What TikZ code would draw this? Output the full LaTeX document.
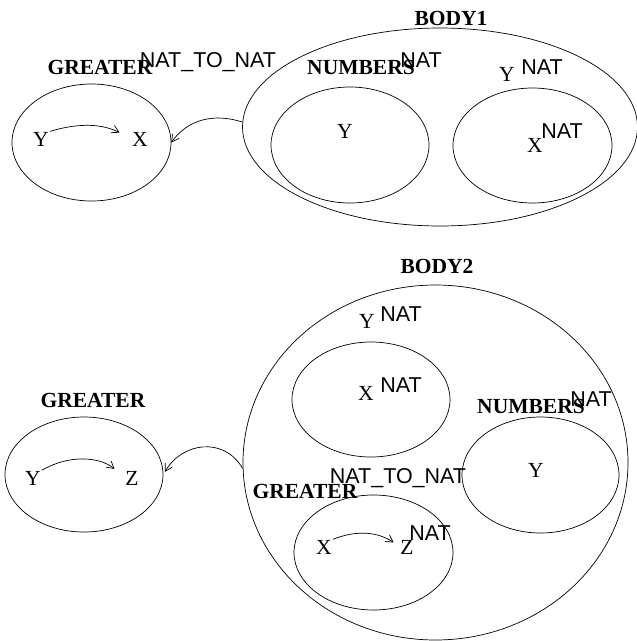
\documentclass[tikz,border=0pt]{standalone}
\usepackage{fontspec}
\setmainfont{Liberation Serif}
\newfontfamily\natfont{Liberation Sans}
\usetikzlibrary{shapes.geometric,arrows.meta}
\tikzset{
  oval/.style={draw,ellipse,inner sep=0pt,line width=0.7pt},
  lbl/.style={anchor=base,inner sep=0pt,font=\fontsize{21.5}{24}\selectfont},
  bold/.style={anchor=base,inner sep=0pt,font=\fontsize{21.5}{24}\selectfont\bfseries},
  typ/.style={anchor=base,inner sep=0pt,font=\fontsize{21.5}{24}\selectfont\natfont},
  conn/.style={line width=0.7pt,-{Straight Barb[length=7pt,width=8pt]}}
}
\begin{document}
\begin{tikzpicture}[x=1pt,y=1pt]
\useasboundingbox (0,0) rectangle (637,-641);
% ---------- top half ----------
\node[oval,minimum width=159pt,minimum height=117pt] (g1) at (91.5,-142.5) {};
\node[bold] (g1lbl) at (100,-74) {GREATER};
\node[typ] (n2n1) at (208,-67) {NAT\_TO\_NAT};
\node[lbl] (y1) at (41,-146) {Y};
\node[lbl] (x1) at (140,-146) {X};
\draw[conn,shorten >=14pt,shorten <=1pt] (y1.north east) to[bend left=22] (x1.west);

\node[oval,minimum width=395pt,minimum height=198pt] (b1) at (440,-127) {};
\node[bold] (b1lbl) at (451,-25) {BODY1};
\node[oval,minimum width=158pt,minimum height=116pt] (num1) at (350,-145) {};
\node[bold] (num1lbl) at (361,-74) {NUMBERS};
\node[typ] (num1t) at (421,-67) {NAT};
\node[lbl] (ny1) at (345,-138) {Y};
\node[oval,minimum width=159pt,minimum height=115pt] (r1) at (532.5,-145.5) {};
\node[lbl] (ry1) at (507,-81) {Y};
\node[typ] (ry1t) at (542,-74) {NAT};
\node[lbl] (rx1) at (535,-152) {X};
\node[typ] (rx1t) at (562,-138) {NAT};
\draw[conn] ([yshift=5pt]b1.west) to[out=162,in=55] (g1.east);

% ---------- bottom half ----------
\node[oval,minimum width=158pt,minimum height=115pt] (g2) at (84,-474.5) {};
\node[bold] (g2lbl) at (93,-407) {GREATER};
\node[lbl] (y2) at (33,-485) {Y};
\node[lbl] (z2) at (132,-485) {Z};
\draw[conn,shorten >=14pt,shorten <=1pt] (y2.north east) to[bend left=35] (z2.west);

\node[oval,minimum width=385pt,minimum height=355pt] (b2) at (435.5,-462.5) {};
\node[bold] (b2lbl) at (437,-273) {BODY2};
\node[lbl] (by2) at (367,-328) {Y};
\node[typ] (by2t) at (401,-321) {NAT};
\node[oval,minimum width=158pt,minimum height=115pt] (in2) at (371,-399.5) {};
\node[lbl] (ix2) at (366,-400) {X};
\node[typ] (ix2t) at (401,-392) {NAT};
\node[oval,minimum width=157pt,minimum height=116pt] (num2) at (540.5,-475) {};
\node[bold] (num2lbl) at (531,-413) {NUMBERS};
\node[typ] (num2t) at (591,-406) {NAT};
\node[lbl] (ny2) at (536,-477) {Y};
\node[typ] (n2n2) at (398,-483) {NAT\_TO\_NAT};
\node[oval,minimum width=159pt,minimum height=115pt] (g3) at (373.5,-552.5) {};
\node[bold] (g3lbl) at (305,-498) {GREATER};
\node[lbl] (x3) at (324,-554) {X};
\node[lbl] (z3) at (407,-554) {Z};
\node[typ] (z3t) at (430,-540) {NAT};
\draw[conn,shorten >=8pt,shorten <=1pt] (x3.north east) to[bend left=28] (z3.west);
\draw[conn,shorten >=3pt] ([yshift=-6pt]b2.west) to[out=120,in=60,looseness=1.2] (g2.east);
\end{tikzpicture}
\end{document}
